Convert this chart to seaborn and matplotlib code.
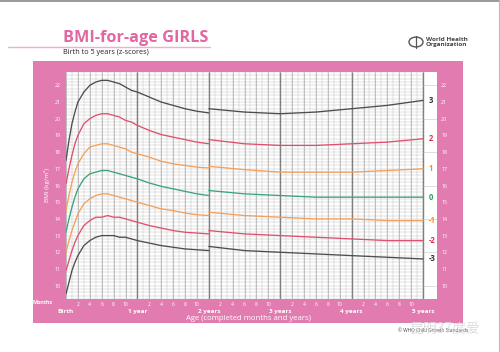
import numpy as np
import pandas as pd
import matplotlib
matplotlib.use("Agg")
import matplotlib.pyplot as plt
import seaborn as sns
from matplotlib.patches import Rectangle, Circle

# ages in months; the chart restarts at 24 months (length -> height)
months_a = [0, 0.5, 1, 1.5, 2, 3, 4, 5, 6, 7, 8, 9, 10, 11, 12, 14, 16, 18, 20, 22, 24]
months_b = [24, 30, 36, 42, 48, 54, 60]

z_names = ["3", "2", "1", "0", "-1", "-2", "-3"]

sd3_a = [17.5, 18.7, 19.7, 20.4, 21.0, 21.6, 22.0, 22.2, 22.3, 22.3, 22.2, 22.1, 21.9, 21.7, 21.6, 21.3, 21.0, 20.8, 20.6, 20.45, 20.35]
sd2_a = [16.1, 17.0, 17.8, 18.5, 19.0, 19.7, 20.0, 20.2, 20.3, 20.3, 20.2, 20.1, 19.9, 19.8, 19.6, 19.3, 19.05, 18.9, 18.75, 18.6, 18.5]
sd1_a = [14.5, 15.4, 16.2, 16.8, 17.3, 17.9, 18.3, 18.4, 18.5, 18.5, 18.4, 18.3, 18.2, 18.0, 17.9, 17.7, 17.45, 17.3, 17.2, 17.1, 17.05]
sd0_a = [13.2, 14.0, 14.7, 15.3, 15.8, 16.4, 16.7, 16.8, 16.9, 16.9, 16.8, 16.7, 16.6, 16.5, 16.4, 16.15, 15.95, 15.8, 15.65, 15.5, 15.4]
sdm1_a = [12.0, 12.7, 13.3, 13.8, 14.3, 14.9, 15.2, 15.4, 15.5, 15.5, 15.4, 15.3, 15.2, 15.1, 15.0, 14.8, 14.6, 14.5, 14.35, 14.25, 14.2]
sdm2_a = [10.9, 11.5, 12.1, 12.6, 13.0, 13.6, 13.9, 14.1, 14.1, 14.2, 14.1, 14.1, 14.0, 13.9, 13.8, 13.6, 13.45, 13.3, 13.2, 13.15, 13.1]
sdm3_a = [9.5, 10.2, 10.9, 11.4, 11.8, 12.4, 12.7, 12.9, 13.0, 13.0, 13.0, 12.9, 12.9, 12.8, 12.7, 12.55, 12.4, 12.3, 12.2, 12.15, 12.1]

sd3_b = [20.6, 20.4, 20.3, 20.4, 20.6, 20.8, 21.1]
sd2_b = [18.75, 18.5, 18.4, 18.4, 18.5, 18.6, 18.8]
sd1_b = [17.15, 16.95, 16.8, 16.8, 16.8, 16.9, 17.0]
sd0_b = [15.7, 15.5, 15.4, 15.3, 15.3, 15.3, 15.3]
sdm1_b = [14.4, 14.2, 14.1, 14.0, 14.0, 13.9, 13.9]
sdm2_b = [13.3, 13.1, 13.0, 12.9, 12.8, 12.7, 12.7]
sdm3_b = [12.35, 12.1, 12.0, 11.9, 11.8, 11.7, 11.6]

year_labels = ["Birth", "1 year", "2 years", "3 years", "4 years", "5 years"]
bmi_ticks = list(range(10, 23))

PINK = "#e27bb0"
TITLE_PINK = "#e266a0"
line_colors = {"3": "#4d4d4d", "2": "#e0506e", "1": "#f5a05a", "0": "#3aa57a",
               "-1": "#f5a05a", "-2": "#e0506e", "-3": "#4d4d4d"}
label_colors = {"3": "#333333", "2": "#d9304f", "1": "#f08a30", "0": "#2e9e5a",
                "-1": "#f08a30", "-2": "#d9304f", "-3": "#333333"}

series_a = [sd3_a, sd2_a, sd1_a, sd0_a, sdm1_a, sdm2_a, sdm3_a]
series_b = [sd3_b, sd2_b, sd1_b, sd0_b, sdm1_b, sdm2_b, sdm3_b]

rows = []
for z, va, vb in zip(z_names, series_a, series_b):
    for m, v in zip(months_a, va):
        rows.append((z, "a", m, v))
    for m, v in zip(months_b, vb):
        rows.append((z, "b", m, v))
df = pd.DataFrame(rows, columns=["z", "seg", "month", "bmi"])

sns.set_theme(style="white")
plt.rcParams["font.family"] = ["Open Sans", "DejaVu Sans"]

W, H = 500, 352
fig = plt.figure(figsize=(W / 100, H / 100), dpi=100)
fig.patch.set_facecolor("white")


def fx(px):
    return px / W


def fy(py):
    return 1 - py / H


# pink frame (behind the axes)
fig.patches.append(Rectangle((fx(33), fy(323)), fx(430), 262 / H, transform=fig.transFigure,
                             facecolor=PINK, edgecolor="none", zorder=-5))
# page border
fig.add_artist(plt.Line2D([0, 1], [fy(0.8), fy(0.8)], transform=fig.transFigure, color="#888888", lw=1.2))
fig.add_artist(plt.Line2D([fx(498.5), fx(498.5)], [0, 1], transform=fig.transFigure, color="#bbbbbb", lw=0.8))

ax = fig.add_axes([fx(66), fy(299), 371 / W, 227 / H])
ax.set_zorder(2)
ax.set_facecolor("white")
for s in ax.spines.values():
    s.set_visible(False)

ymin, ymax = 9.2, 22.8
ax.set_xlim(0, 62.35)
ax.set_ylim(ymin, ymax)

# grid: monthly verticals, 0.2 horizontals
ax.hlines(np.arange(ymin, ymax + 0.01, 0.2), 0, 60, color="#c2c2c2", lw=0.35, zorder=1)
ax.vlines(np.arange(0, 61, 1), ymin, ymax, color="#c2c2c2", lw=0.35, zorder=1)
ax.vlines(np.arange(0, 61, 2), ymin, ymax, color="#a6a6a6", lw=0.45, zorder=1)
ax.vlines(np.arange(12, 61, 12), ymin, ymax, color="#808080", lw=1.0, zorder=1)
ax.hlines(np.arange(10, 23, 2), 60, 62.35, color="#c2c2c2", lw=0.4, zorder=1)

sns.lineplot(data=df, x="month", y="bmi", hue="z", units="seg", estimator=None,
             palette=line_colors, legend=False, ax=ax, linewidth=0.95, zorder=3)

for z, vb in zip(z_names, series_b):
    ax.text(60.9, vb[-1], z, color=label_colors[z], fontsize=5.5, fontweight="bold",
            va="center", ha="left")

ax.set_xlabel("")
ax.set_ylabel("")

# x ticks: 2..10 months inside each year
month_ticks = [12 * y + m for y in range(5) for m in (2, 4, 6, 8, 10)]
ax.set_xticks(month_ticks)
ax.set_xticklabels([str(m % 12) for m in month_ticks])
ax.tick_params(axis="x", length=0, labelsize=3.6, labelcolor="white", pad=2)

ax.set_yticks(bmi_ticks)
ax.set_yticklabels([str(v) for v in bmi_ticks])
ax.tick_params(axis="y", length=0, labelsize=3.8, labelcolor="white", pad=4)

ax2 = ax.twinx()
ax2.set_ylim(ymin, ymax)
ax2.set_yticks(bmi_ticks)
ax2.set_yticklabels([str(v) for v in bmi_ticks])
ax2.tick_params(axis="y", length=0, labelsize=3.8, labelcolor="white", pad=3)
ax2.grid(False)
for s in ax2.spines.values():
    s.set_visible(False)

trans = ax.get_xaxis_transform()
for i, lab in enumerate(year_labels):
    ax.text(12 * i, -0.045, lab, transform=trans, ha="center", va="top", color="white",
            fontsize=4.6, fontweight="bold")

fig.text(fx(43), fy(303), "Months", color="white", fontsize=3.8, fontweight="bold",
         ha="center", va="center")
fig.text(fx(249), fy(318), "Age (completed months and years)", color="white", fontsize=5.6,
         ha="center", va="center")
fig.text(fx(47), fy(185), "BMI (kg/m\u00b2)", color="white", fontsize=4.6, rotation=90,
         ha="center", va="center")

# header
fig.text(fx(63), fy(42), "BMI-for-age GIRLS", color=TITLE_PINK, fontsize=11.7,
         fontweight="bold", ha="left", va="baseline")
fig.add_artist(plt.Line2D([fx(8), fx(210)], [fy(47), fy(47)], transform=fig.transFigure,
                          color="#efb0cc", lw=1.0))
fig.text(fx(63), fy(53), "Birth to 5 years (z-scores)", color="#222222", fontsize=5.2,
         ha="left", va="center")

# WHO emblem and name
fig.patches.append(Circle((fx(416), fy(42)), 7 / W, transform=fig.transFigure,
                          facecolor="white", edgecolor="#555555", lw=1.0))
fig.add_artist(plt.Line2D([fx(416), fx(416)], [fy(36), fy(48)], transform=fig.transFigure,
                          color="#555555", lw=0.9))
fig.text(fx(426), fy(42), "World Health\nOrganization", color="#444444", fontsize=4.6,
         fontweight="bold", ha="left", va="center", linespacing=1.0)

# footer
fig.text(fx(398), fy(331), "\u00a9 WHO Child Growth Standards", color="#444444", fontsize=3.4,
         ha="left", va="center")
fig.text(fx(445), fy(329), "昆明37度爱", color="#d8d8d8", fontsize=10,
         family=["Noto Sans CJK SC", "DejaVu Sans"], ha="center", va="center", alpha=0.85)

fig.savefig("out.png", dpi=100)
